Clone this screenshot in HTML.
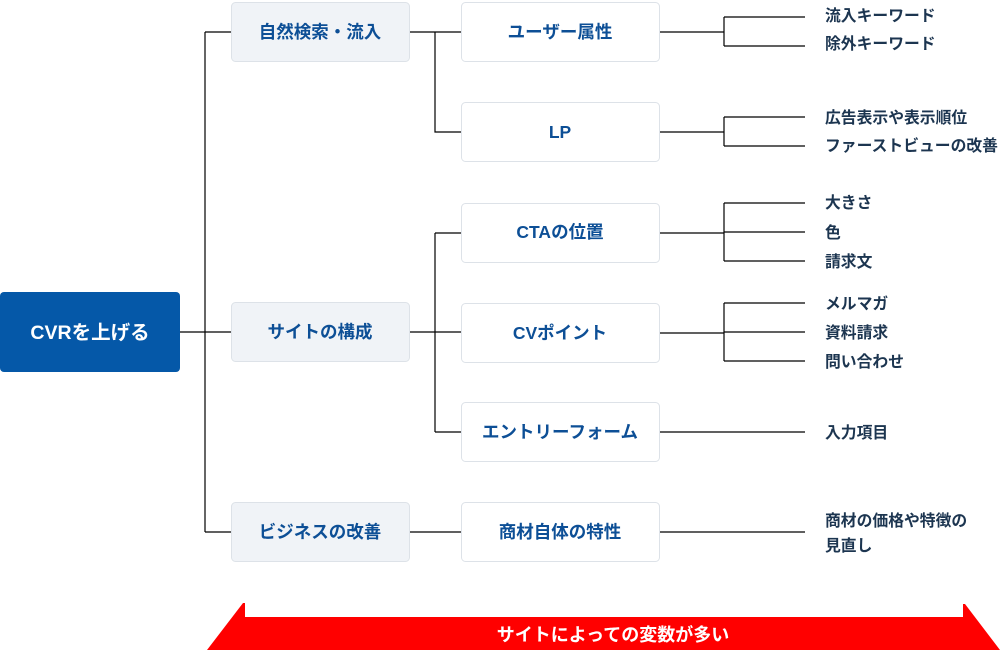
<!DOCTYPE html>
<html><head><meta charset="utf-8"><style>
html,body{margin:0;padding:0;background:#fff;width:1000px;height:650px;overflow:hidden}
svg text{font-family:"Liberation Sans","Noto Sans CJK JP",sans-serif;font-weight:bold}
</style></head><body>
<svg width="1000" height="650" viewBox="0 0 1000 650" xmlns="http://www.w3.org/2000/svg">
<g stroke="#000" stroke-width="1.2" fill="none">
<path d="M180 332H231M205 32V532M205 32H231M205 532H231"/>
<path d="M409 32H461M435 32V132H461M409 332H461M435 233V432M435 233H461M435 432H461M409 532H461"/>
<path d="M659 32H724M724 17V46M724 17H805M724 46H805"/>
<path d="M659 132H724M724 117V146M724 117H805M724 146H805"/>
<path d="M659 233H724M724 203V261M724 203H805M724 232H805M724 261H805"/>
<path d="M659 333H724M724 303V361M724 303H805M724 332H805M724 361H805"/>
<path d="M659 432H805M659 532H805"/>
</g>
<rect x="0" y="292" width="180" height="80" rx="4" fill="#0558a8"/>
<text x="90" y="339" fill="#fff" font-size="19.5" text-anchor="middle">CVRを上げる</text>
<g fill="#f0f3f7" stroke="#dde2e8">
<rect x="231.5" y="2.5" width="178" height="59" rx="4"/>
<rect x="231.5" y="302.5" width="178" height="59" rx="4"/>
<rect x="231.5" y="502.5" width="178" height="59" rx="4"/>
</g>
<g fill="#fff" stroke="#dde2e8">
<rect x="461.5" y="2.5" width="198" height="59" rx="4"/>
<rect x="461.5" y="102.5" width="198" height="59" rx="4"/>
<rect x="461.5" y="203.5" width="198" height="59" rx="4"/>
<rect x="461.5" y="303.5" width="198" height="59" rx="4"/>
<rect x="461.5" y="402.5" width="198" height="59" rx="4"/>
<rect x="461.5" y="502.5" width="198" height="59" rx="4"/>
</g>
<g fill="#0d4f96" font-size="17.5" text-anchor="middle">
<text x="320" y="38">自然検索・流入</text>
<text x="320" y="338">サイトの構成</text>
<text x="320" y="538">ビジネスの改善</text>
<text x="560" y="38">ユーザー属性</text>
<text x="560" y="138">LP</text>
<text x="560" y="238">CTAの位置</text>
<text x="560" y="339">CVポイント</text>
<text x="560" y="438">エントリーフォーム</text>
<text x="560" y="538">商材自体の特性</text>
</g>
<g fill="#1c3550" font-size="15.8">
<text x="825" y="21">流入キーワード</text>
<text x="825" y="49">除外キーワード</text>
<text x="825" y="123">広告表示や表示順位</text>
<text x="825" y="151">ファーストビューの改善</text>
<text x="825" y="208">大きさ</text>
<text x="825" y="238">色</text>
<text x="825" y="267">請求文</text>
<text x="825" y="309">メルマガ</text>
<text x="825" y="338">資料請求</text>
<text x="825" y="367">問い合わせ</text>
<text x="825" y="438">入力項目</text>
<text x="825" y="526">商材の価格や特徴の</text>
<text x="825" y="551">見直し</text>
</g>
<polygon points="207,650 243,603 245,603 245,617 963,617 963,604 965,604 1000,650" fill="#ff0000"/>
<text x="613" y="641" fill="#fff" font-size="18" text-anchor="middle">サイトによっての変数が多い</text>
</svg>
</body></html>
